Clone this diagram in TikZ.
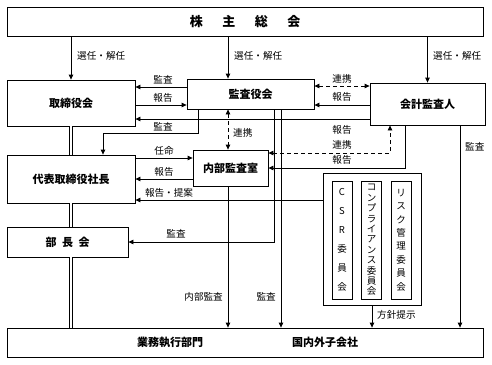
\documentclass[tikz,border=0pt]{standalone}
\usepackage{fontspec}
\setmainfont{Noto Sans CJK JP}
\usetikzlibrary{arrows.meta}
\begin{document}
\begin{tikzpicture}[x=1pt,y=-1pt,
  box/.style={draw, line width=0.8pt, inner sep=0pt, font=\fontsize{11}{13}\selectfont\bfseries},
  cbox/.style={draw, line width=0.8pt, inner sep=0pt, minimum width=20pt, minimum height=118pt, align=center},
  lbl/.style={font=\fontsize{9.6}{10}\selectfont, inner sep=0pt},
  arr/.style={line width=0.8pt, -{Triangle[length=5pt,width=4.5pt]}},
  darr/.style={line width=0.8pt, dash pattern=on 4pt off 3pt, {Triangle[length=5pt,width=4.5pt]}-{Triangle[length=5pt,width=4.5pt]}},
  ln/.style={line width=0.8pt},
  dbl/.style={line width=0.8pt, double, double distance=2pt}
]
\fill[white] (0,0) rectangle (492,364);
\useasboundingbox (0,0) rectangle (492,364);

% boxes
\node[box, minimum width=476pt, minimum height=29pt, font=\fontsize{13}{15}\selectfont\bfseries] (sh) at (245,21.5) {株\hspace{1.5em}主\hspace{1.5em}総\hspace{1.5em}会};
\node[box, minimum width=128pt, minimum height=46pt] (tb) at (71,103) {取締役会};
\node[box, minimum width=127pt, minimum height=30pt] (ka) at (250.5,94) {監査役会};
\node[box, minimum width=115pt, minimum height=42pt] (kk) at (427.5,104) {会計監査人};
\node[box, minimum width=75pt, minimum height=36pt] (nb) at (230.5,168) {内部監査室};
\node[box, minimum width=128pt, minimum height=48pt] (dt) at (71,179) {代表取締役社長};
\node[box, minimum width=121pt, minimum height=30pt] (bc) at (67.5,242) {部\hspace{0.5em}長\hspace{0.5em}会};
\node[box, minimum width=476pt, minimum height=29pt] (gb) at (245,342.5) {};
\node[box, draw=none] (gb1) at (170,342.5) {業務執行部門};
\node[box, draw=none] (gb2) at (325,342.5) {国内外子会社};
\node[draw, ln, minimum width=98pt, minimum height=132pt] (cm) at (372,239) {};
\node[cbox, font=\fontsize{9.5}{19}\selectfont] (csr) at (342,240) {C\\S\\R\\委\\員\\会};
\node[cbox, font=\fontsize{9.5}{10.4}\selectfont] (cmp) at (371.5,240) {コ\\ン\\プ\\ラ\\イ\\ア\\ン\\ス\\委\\員\\会};
\node[cbox, font=\fontsize{9.5}{13.4}\selectfont] (rsk) at (401,240) {リ\\ス\\ク\\管\\理\\委\\員\\会};

% shareholders
\draw[arr] (sh.south -| tb.north) -- (tb.north);
\draw[arr] (sh.south -| 228,0) -- (ka.north -| 228,0);
\draw[arr] (sh.south -| kk.north) -- (kk.north);
\node[lbl, anchor=west] (l1) at (77,56) {選任・解任};
\node[lbl, anchor=west] (l2) at (234,56) {選任・解任};
\node[lbl, anchor=west] (l3) at (433,56) {選任・解任};

% board <-> auditors
\draw[arr] (ka.west |- 0,87) -- (tb.east |- 0,87);
\draw[arr] (tb.east |- 0,105) -- (ka.west |- 0,105);
\draw[arr] (kk.west |- 0,119) -- (tb.east |- 0,119);
\node[lbl] (l4) at (163,80) {監査};
\node[lbl] (l5) at (163,98) {報告};
\node[lbl] (l6) at (163,127) {監査};

\draw[arr] (ka.south -| 198,0) |- (103,133) -- (dt.north -| 103,0);
\draw[darr] (ka.south -| 228,0) -- (nb.north -| 228,0);
\node[lbl, anchor=west] (l7) at (233,133) {連携};

\draw[darr] (ka.east |- 0,86) -- (kk.west |- 0,86);
\draw[arr] (kk.west |- 0,105) -- (ka.east |- 0,105);
\node[lbl] (l8) at (342,79) {連携};
\node[lbl] (l9) at (342,97) {報告};

% president <-> internal audit
\draw[arr] (dt.east |- 0,158) -- (nb.west |- 0,158);
\draw[arr] (nb.west |- 0,179) -- (dt.east |- 0,179);
\draw[arr] (cm.west |- 0,200) -- (dt.east |- 0,200);
\node[lbl] (l10) at (164,151) {任命};
\node[lbl] (l11) at (164,172) {報告};
\node[lbl] (l12) at (169,193) {報告・提案};

% auditors downward
\draw[arr] (ka.south -| 274,0) |- (bc.east |- 0,242);
\node[lbl] (l13) at (176,234) {監査};
\draw[arr] (ka.south -| 281,0) -- (gb.north -| 281,0);
\node[lbl, anchor=east] (l14) at (276,297) {監査};
\draw[arr] (nb.south -| 228,0) -- (gb.north -| 228,0);
\node[lbl, anchor=east] (l15) at (223,297) {内部監査};

% accounting auditor <-> internal audit
\draw[darr] (nb.east |- 0,153) -| (kk.south -| 390,0);
\draw[arr] (kk.south -| 405,0) |- (nb.east |- 0,168);
\node[lbl] (l16) at (342,130) {報告};
\node[lbl] (l17) at (342,145) {連携};
\node[lbl] (l18) at (342,160) {報告};
\draw[arr] (kk.south -| 460,0) -- (gb.north -| 460,0);
\node[lbl, anchor=west] (l19) at (465,147) {監査};

% committees
\draw[arr] (cm.south) -- (gb.north -| cm.south);
\node[lbl, anchor=west] (l20) at (377,315) {方針提示};

% double lines
\draw[dbl] (tb.south) -- (dt.north);
\draw[dbl] (dt.south) -- (bc.north -| dt.south);
\draw[dbl] (bc.south -| dt.south) -- (gb.north -| dt.south);
\end{tikzpicture}
\end{document}
